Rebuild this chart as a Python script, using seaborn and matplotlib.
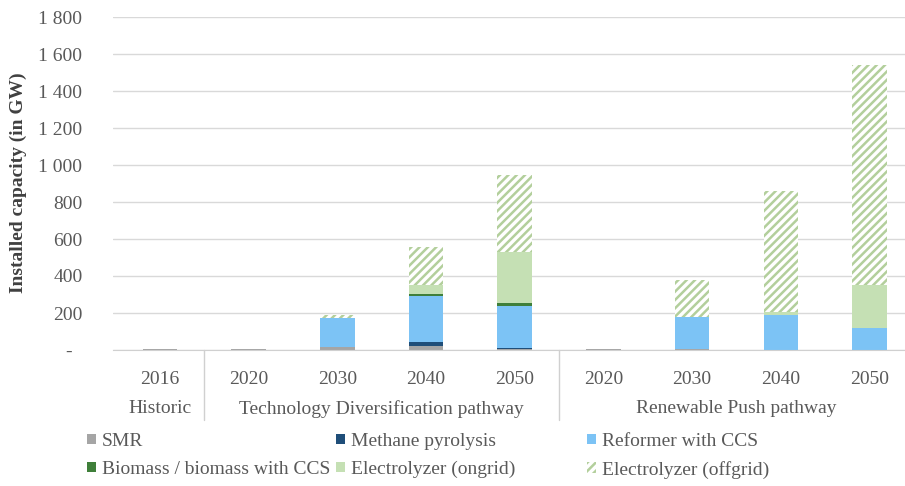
import matplotlib
matplotlib.use('Agg')
import matplotlib.pyplot as plt
import matplotlib.transforms as mtransforms
from matplotlib.patches import Patch
import seaborn as sns
import pandas as pd


# === Data ===

years = ['2016', '2020', '2030', '2040', '2050', '2020', '2030', '2040', '2050']
groups = ['Historic', 'Technology Diversification pathway', 'Renewable Push pathway']
group_sizes = [1, 4, 4]

smr = [6, 6, 15, 20, 3, 6, 4, 2, 0]
methane = [0, 0, 0, 22, 10, 0, 0, 0, 0]
reformer = [0, 0, 160, 252, 225, 0, 176, 187, 117]
biomass = [0, 0, 0, 10, 15, 0, 0, 0, 0]
ongrid = [0, 0, 0, 48, 279, 0, 0, 18, 235]
offgrid = [0, 0, 14, 207, 415, 0, 199, 650, 1190]

names = ['SMR', 'Methane pyrolysis', 'Reformer with CCS',
         'Biomass / biomass with CCS', 'Electrolyzer (ongrid)', 'Electrolyzer (offgrid)']
colors = ['#a5a5a5', '#1f4e79', '#7cc3f5', '#3f7f3a', '#c5e0b4', 'white']
hatch_color = '#b3cf9c'


# === Setup ===

sns.set_style('white')
plt.rcParams.update({
    'font.family': ['Liberation Serif', 'DejaVu Serif'],
    'font.size': 14,
    'hatch.linewidth': 1.8,
})
text_color = '#595959'

keys = [f'{i}-{y}' for i, y in enumerate(years)]
df = pd.DataFrame({'key': keys})
for name, values in zip(names, [smr, methane, reformer, biomass, ongrid, offgrid]):
    df[name] = values
cum = df[names].cumsum(axis=1)
cum['key'] = keys

fig = plt.figure(figsize=(9.05, 4.86), dpi=100)
ax = fig.add_axes([113 / 905, 136 / 486, (905 - 113) / 905, 333 / 486])

# Stacked bars: draw cumulative totals from the top layer down.
for name, color in reversed(list(zip(names, colors))):
    kws = dict(linewidth=0)
    if name == 'Electrolyzer (offgrid)':
        kws = dict(edgecolor=hatch_color, hatch='////', linewidth=0)
    sns.barplot(data=cum, x='key', y=name, order=keys, color=color,
                saturation=1, width=0.39, ax=ax, **kws)

# Axes styling.
ax.set_xlim(-0.53, 8.4)
ax.set_ylim(0, 1800)
ax.set_yticks(range(0, 1801, 200))
ax.set_yticklabels(['-  ' if v == 0 else f'{v:,}'.replace(',', ' ')
                    for v in range(0, 1801, 200)])
ax.set_xticks(range(len(years)))
ax.set_xticklabels(years)
ax.tick_params(axis='both', length=0, colors=text_color, labelsize=14)
ax.tick_params(axis='x', pad=15)
ax.tick_params(axis='y', pad=22)
ax.set_xlabel('')
ax.set_ylabel('')
ax.yaxis.grid(True, color='#d9d9d9', linewidth=1)
ax.set_axisbelow(True)
for side in ['left', 'right', 'top']:
    ax.spines[side].set_visible(False)
ax.spines['bottom'].set_color('#d0d0d0')

# Group labels and separators below the axis.
trans = mtransforms.blended_transform_factory(ax.transData, ax.transAxes)
start = -0.5
for group, size in zip(groups, group_sizes):
    ax.text(start + size / 2, -0.177, group, transform=trans, ha='center',
            va='center', color=text_color, fontsize=14)
    start += size
    if start < len(years) - 0.5:
        ax.plot([start, start], [0, -0.21], transform=trans, color='#d0d0d0',
                linewidth=1, clip_on=False)

fig.text(18 / 905, 1 - 183 / 486, 'Installed capacity (in GW)', rotation=90,
         ha='center', va='center', fontweight='bold', color='#404040', fontsize=14)

# Legend: three columns placed like the original.
handles = []
for name, color in zip(names, colors):
    if name == 'Electrolyzer (offgrid)':
        handles.append(Patch(facecolor='white', edgecolor=hatch_color, hatch='////',
                             linewidth=0, label=name))
    else:
        handles.append(Patch(facecolor=color, linewidth=0, label=name))
columns = [(handles[0], handles[3]), (handles[1], handles[4]), (handles[2], handles[5])]
col_x = [87, 336, 587]
for (h1, h2), x in zip(columns, col_x):
    leg = fig.legend(handles=[h1, h2], loc='upper left',
                     bbox_to_anchor=(x / 905, 1 - 433 / 486), frameon=False,
                     handlelength=0.45, handleheight=0.45, handletextpad=0.3,
                     labelspacing=0.55, borderpad=0, borderaxespad=0, fontsize=14)
    for t in leg.get_texts():
        t.set_color(text_color)

plt.savefig('out.png', dpi=100)
